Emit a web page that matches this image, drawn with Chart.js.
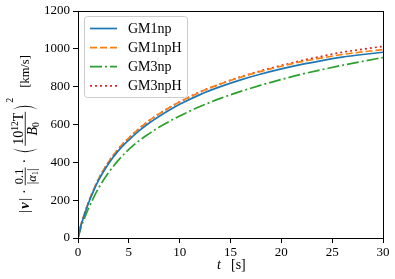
<!DOCTYPE html>
<html>
<head>
<meta charset="utf-8">
<script src="https://cdn.jsdelivr.net/npm/chart.js@4.4.0/dist/chart.umd.min.js"></script>
<style>
html, body { margin: 0; padding: 0; background: #fff; }
</style>
</head>
<body>
<canvas id="chart" width="395" height="279"></canvas>
<script>
// time axis [s]
const times = [0, 0.25, 0.5, 1, 1.5, 2, 3, 4, 5, 6, 7, 8, 9, 10, 12, 14, 16, 18, 20, 22, 24, 26, 28, 30];

// speeds [km/s]
const gm1np  = [0, 58, 102, 180, 245, 303, 393, 463, 518, 566, 608, 644, 677, 707, 758, 800, 836, 867, 894, 918, 938, 956, 970, 982];
const gm1npH = [0, 60, 105, 185, 251, 310, 402, 473, 529, 578, 621, 657, 690, 719, 771, 814, 850, 881, 908, 932, 952, 970, 984, 996];
const gm3np  = [0, 48, 86, 152, 210, 262, 345, 413, 468, 514, 552, 587, 617, 645, 695, 738, 775, 808, 838, 866, 890, 913, 934, 954];
const gm3npH = [0, 60, 105, 185, 251, 310, 402, 473, 529, 578, 621, 657, 690, 720, 772, 815, 852, 884, 912, 938, 961, 982, 998, 1013];

const seriesNames = ['GM1np', 'GM1npH', 'GM3np', 'GM3npH'];
const xTicks = [0, 5, 10, 15, 20, 25, 30];
const yTicks = [0, 200, 400, 600, 800, 1000, 1200];

const serif = '"Liberation Serif", "Times New Roman", serif';

function pts(ys) {
    return times.map((t, i) => ({ x: t, y: ys[i] }));
}

function line(label, ys, color, dash) {
    return {
        label: label,
        data: pts(ys),
        borderColor: color,
        backgroundColor: color,
        borderWidth: 1.7,
        borderDash: dash,
        pointRadius: 0,
        fill: false,
        cubicInterpolationMode: 'monotone'
    };
}

// frame (all four spines) + legend box + axis titles
const decorations = {
    id: 'decorations',
    afterDatasetsDraw(chart) {
        const ctx = chart.ctx;
        const a = chart.chartArea;
        ctx.save();
        ctx.strokeStyle = '#000';
        ctx.lineWidth = 1;
        ctx.strokeRect(Math.round(a.left) + 0.5, Math.round(a.top) + 0.5,
            Math.round(a.right - a.left), Math.round(a.bottom - a.top));
        ctx.restore();
    },
    afterDraw(chart) {
        const ctx = chart.ctx;
        drawLegend(ctx, chart);
        drawXTitle(ctx);
        drawYTitle(ctx);
    }
};

function roundRect(ctx, x, y, w, h, r) {
    ctx.beginPath();
    ctx.moveTo(x + r, y);
    ctx.arcTo(x + w, y, x + w, y + h, r);
    ctx.arcTo(x + w, y + h, x, y + h, r);
    ctx.arcTo(x, y + h, x, y, r);
    ctx.arcTo(x, y, x + w, y, r);
    ctx.closePath();
}

function drawLegend(ctx, chart) {
    ctx.save();
    roundRect(ctx, 84.5, 16.5, 103, 81, 3);
    ctx.fillStyle = 'rgba(255,255,255,0.8)';
    ctx.fill();
    ctx.strokeStyle = '#cccccc';
    ctx.lineWidth = 1;
    ctx.stroke();
    chart.data.datasets.forEach((ds, i) => {
        const y = 28.5 + i * 19.1;
        ctx.strokeStyle = ds.borderColor;
        ctx.lineWidth = ds.borderWidth;
        ctx.setLineDash(ds.borderDash || []);
        ctx.beginPath();
        ctx.moveTo(90, y);
        ctx.lineTo(117, y);
        ctx.stroke();
        ctx.setLineDash([]);
        ctx.fillStyle = '#000';
        ctx.font = '14px ' + serif;
        ctx.textBaseline = 'middle';
        ctx.textAlign = 'left';
        ctx.fillText(ds.label, 128, y + 0.5);
    });
    ctx.restore();
}

function drawXTitle(ctx) {
    ctx.save();
    ctx.fillStyle = '#000';
    ctx.textBaseline = 'alphabetic';
    ctx.textAlign = 'left';
    ctx.font = 'italic 14px ' + serif;
    ctx.fillText('t', 217, 269);
    ctx.font = '14px ' + serif;
    ctx.fillText('[s]', 231, 269);
    ctx.restore();
}

function drawYTitle(ctx) {
    const BX = 29, SY = 213, AX = 3.8;
    ctx.save();
    ctx.translate(BX, SY);
    ctx.rotate(-Math.PI / 2);
    ctx.fillStyle = '#000';
    ctx.textAlign = 'left';
    ctx.textBaseline = 'alphabetic';
    const F = (px, style) => (style || '') + ' ' + px + 'px ' + serif;
    const width = (t, f) => { ctx.font = f; return ctx.measureText(t).width; };
    let u = 0;
    const put = (t, f, dy) => {
        ctx.font = f;
        ctx.fillText(t, u, dy || 0);
        u += ctx.measureText(t).width;
    };
    const frac = (num, den, size) => {
        const sumW = parts => parts.reduce((s, p) => s + width(p[0], p[1]), 0);
        const nw = sumW(num), dw = sumW(den);
        const bw = Math.max(nw, dw) + 2;
        const u0 = u;
        ctx.fillRect(u0, -AX - 0.4, bw, 0.8);
        let x = u0 + (bw - nw) / 2;
        num.forEach(p => { ctx.font = p[1]; ctx.fillText(p[0], x, -AX - 2.2 + (p[2] || 0)); x += ctx.measureText(p[0]).width; });
        x = u0 + (bw - dw) / 2;
        den.forEach(p => { ctx.font = p[1]; ctx.fillText(p[0], x, -AX + 2.2 + size * 0.68 + (p[2] || 0)); x += ctx.measureText(p[0]).width; });
        u = u0 + bw;
    };
    // tall thin parenthesis, dir = 1 for "(", -1 for ")"
    const paren = dir => {
        const h = 12.5, top = -AX - h, bot = -AX + h, mid = -AX;
        const a = dir > 0 ? u + 6 : u + 1.5;
        const b = dir > 0 ? u + 1.5 : u + 6;
        const bOut = a + (b - a) * 1.55, bIn = a + (b - a) * 1.1;
        ctx.beginPath();
        ctx.moveTo(a, top);
        ctx.quadraticCurveTo(bOut, mid, a, bot);
        ctx.lineTo(a, bot - 0.3);
        ctx.quadraticCurveTo(bIn, mid, a, top + 0.3);
        ctx.closePath();
        ctx.fill();
        u += 8;
    };

    put('|', F(14.5)); u += 1.4; put('v', F(14.5, 'italic bold')); u += 1.4; put('|', F(14.5));
    u += 4; put('\u00b7', F(14)); u += 4;
    frac([['0.1', F(12.5)]], [['|', F(12.5)], ['\u03b1', F(12.5, 'italic')], ['1', F(8.5), 2], ['|', F(12.5)]], 12.5);
    u += 4; put('\u00b7', F(14)); u += 4;
    paren(1);
    u += 1;
    frac([['10', F(14)], ['12', F(9.5), -5.5], ['T', F(14)]], [['B', F(14, 'italic')], ['0', F(9.5), 2.5]], 14);
    u += 1;
    paren(-1);
    put('2', F(10), -AX - 12.5);
    u += 10;
    put('[km/s]', F(12.5));
    ctx.restore();
}

new Chart(document.getElementById('chart'), {
    type: 'line',
    data: {
        datasets: [
            line(seriesNames[0], gm1np, '#1f77b4', []),
            line(seriesNames[1], gm1npH, '#ff7f0e', [7, 3]),
            line(seriesNames[2], gm3np, '#2ca02c', [12, 3, 2, 3]),
            line(seriesNames[3], gm3npH, '#d62728', [2, 3])
        ]
    },
    options: {
        responsive: false,
        animation: false,
        events: [],
        layout: { padding: { top: 11, right: 12, left: 0, bottom: 0 } },
        plugins: {
            legend: { display: false },
            tooltip: { enabled: false }
        },
        scales: {
            x: {
                type: 'linear',
                min: 0,
                max: 30,
                afterFit(s) { s.height = 41; },
                afterBuildTicks(s) { s.ticks = xTicks.map(v => ({ value: v })); },
                ticks: { color: '#000', font: { family: serif, size: 13 }, padding: 2, maxRotation: 0, callback: v => String(v) },
                grid: { drawOnChartArea: false, drawTicks: true, tickLength: 5, color: '#000' },
                border: { display: false }
            },
            y: {
                min: 0,
                max: 1200,
                afterFit(s) { s.width = 78; },
                afterBuildTicks(s) { s.ticks = yTicks.map(v => ({ value: v })); },
                ticks: { color: '#000', font: { family: serif, size: 13 }, padding: 3, callback: v => String(v) },
                grid: { drawOnChartArea: false, drawTicks: true, tickLength: 5, color: '#000' },
                border: { display: false }
            }
        }
    },
    plugins: [decorations]
});
</script>
</body>
</html>
